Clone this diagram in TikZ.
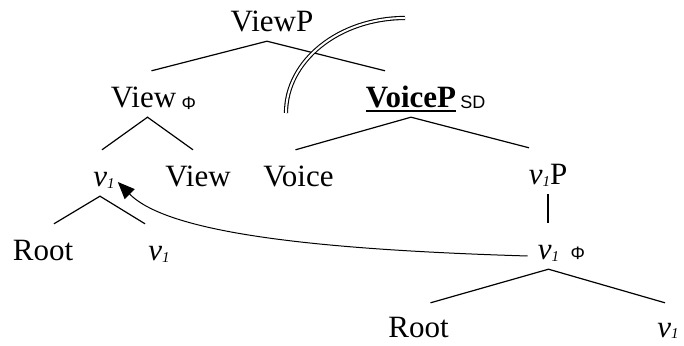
\documentclass[tikz,border=0pt]{standalone}
\usepackage{fontspec}
\setmainfont{Liberation Serif}
\newfontfamily\featfont{Liberation Sans}
\usetikzlibrary{positioning,arrows.meta}

% little v with its index
\newcommand\vone{\textit{v}\raisebox{-1.5pt}{\fontsize{15}{15}\selectfont\textit{1}}}
% heavy underline
\newcommand\heavyul[1]{\setbox0\hbox{#1}\rlap{\rule[-4pt]{\wd0}{2pt}}\box0}

\tikzset{
		word/.style   = {anchor=base, inner xsep=0pt, inner ysep=9pt,
				text height=28pt, text depth=0pt,
				font=\fontsize{31}{36}\selectfont},
		leaf/.style   = {word, inner ysep=0pt, text height=34pt},
		feat/.style   = {inner sep=0pt, font=\featfont\fontsize{18}{18}\selectfont},
		branch/.style = {line width=1.2pt},
		move/.style   = {line width=1pt, -{Triangle[length=17pt,width=14pt]}},
		cut/.style    = {line width=1.1pt, double, double distance=2pt}
	}

\begin{document}
\begin{tikzpicture}[x=1pt, y=1pt]
	\useasboundingbox (0,0) rectangle (684,345);

	\node [word] (viewp)   at (272,313)   {ViewP};
	\node [word] (viewphi) at (143.5,237) {View};
	\node [feat, base right=5pt of viewphi, yshift=-1.5pt] (viewphif) {Φ};
	\node [word] (voicep)  at (411,237)   {\heavyul{\textbf{VoiceP}}};
	\node [feat, base right=4pt of voicep, yshift=-1pt] (voicepf) {SD};

	\node [word] (vhead) at (104,158)   {\vone};
	\node [word] (view)  at (198,158)   {View};
	\node [word] (voice) at (298.5,158) {Voice};
	\node [word] (vp)    at (548,160)   {\vone P};

	\node [word] (rootl) at (43,84)     {Root};
	\node [word] (vl)    at (159,84)    {\vone};
	\node [word] (vphi)  at (548.5,85)  {\vone};
	\node [feat, base right=11pt of vphi] (vphif) {Φ};

	\node [leaf] (rootr) at (418.5,8)   {Root};
	\node [leaf] (vr)    at (668,8)     {\vone};

	% branches
	\draw [branch] ([xshift=8pt]viewphi.north) -- ([xshift=-5pt]viewp.south) -- ([xshift=-26pt]voicep.north);
	\draw [branch] ([xshift=-2pt]vhead.north) -- ([xshift=4pt]viewphi.south) -- ([xshift=-5pt]view.north);
	\draw [branch] ([xshift=-3pt]voice.north) -- (voicep.south) -- ([xshift=-19pt]vp.north);
	\draw [branch] ([xshift=11pt]rootl.north) -- ([xshift=-4pt]vhead.south) -- ([xshift=-14pt]vl.north);
	\draw [branch] (vp.south) -- (vp.south |- vphi.north);
	\draw [branch] ([xshift=12pt]rootr.north) -- (vphi.south) -- ([xshift=-3pt]vr.north);

	% head movement
	\draw [move] ([xshift=-10pt,yshift=4pt]vphi.base west) .. controls +(-198,6) and +(52,-53) .. ([xshift=3pt,yshift=5pt]vhead.base east);

	% phase boundary
	\draw [cut] (286,232) arc [start angle=180, end angle=90, x radius=119, y radius=95];
\end{tikzpicture}
\end{document}
